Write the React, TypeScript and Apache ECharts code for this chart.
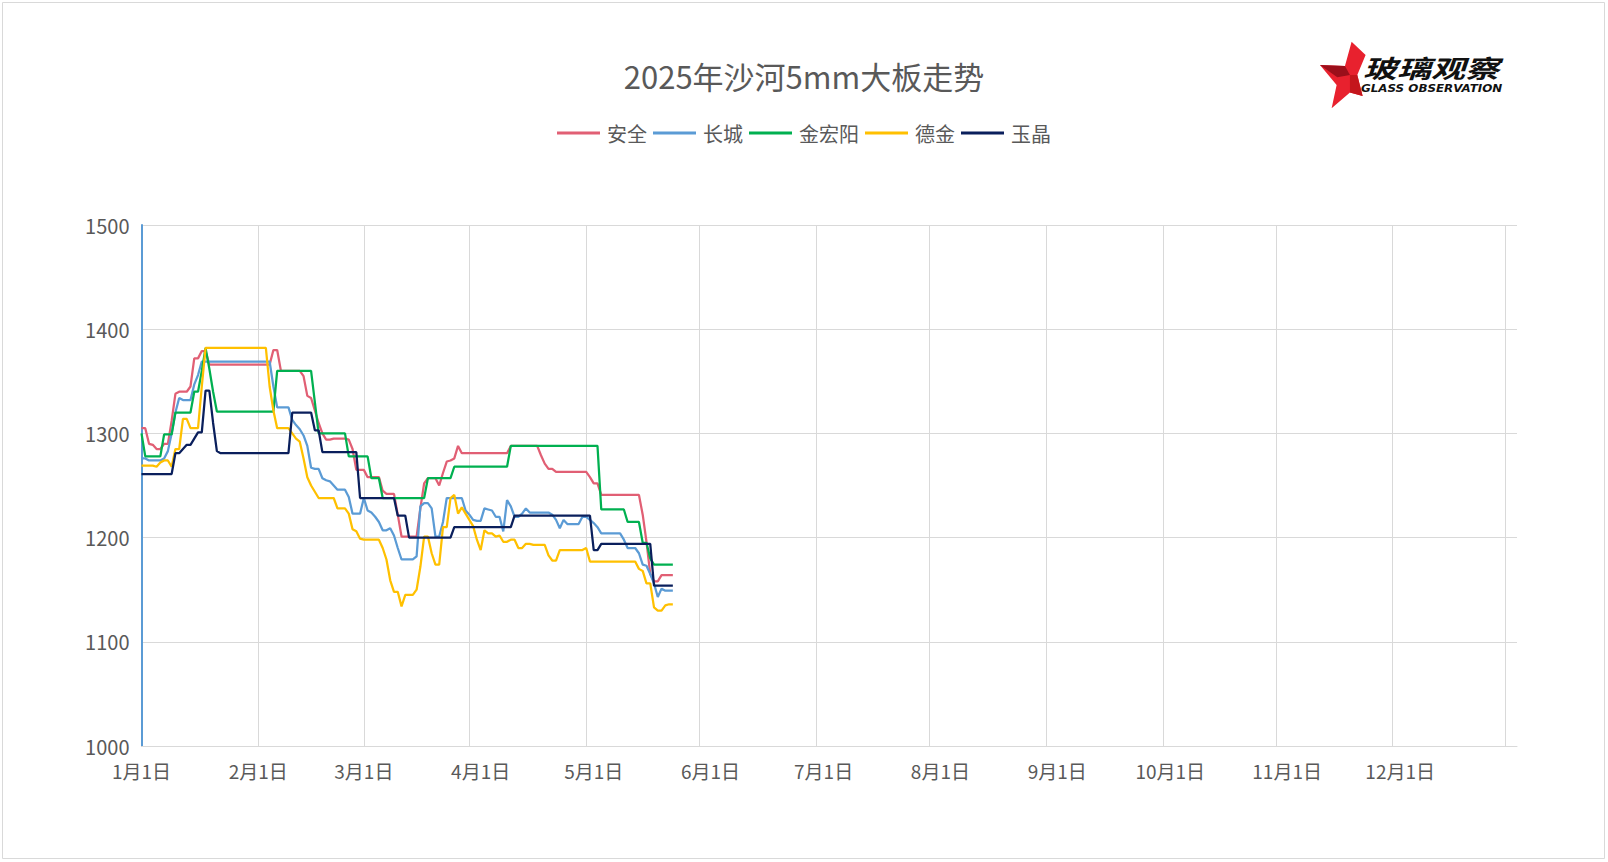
import React, { useEffect, useRef } from "react";
import * as echarts from "echarts";

const TITLE = "2025年沙河5mm大板走势";
const SERIES_NAMES = ["安全", "长城", "金宏阳", "德金", "玉晶"];
const SERIES_COLORS = ["#E15F74", "#5B9BD5", "#00B050", "#FFC000", "#0A1F5C"];

// daily categories: 2025-01-01 .. 2026-01-01
const START_MS = Date.UTC(2025, 0, 1);
const DAYS: string[] = [];
for (let i = 0; i <= 365; i++) {
  DAYS.push(new Date(START_MS + i * 86400000).toISOString().slice(0, 10));
}
// positions (day index) of the vertical grid lines as drawn in the source chart
const SPLIT_LINE_DAYS = [0, 31, 59, 87, 118, 148, 179, 209, 240, 271, 301, 332, 362];

// daily prices from 2025-01-01 (index 0) to 2025-05-22 (index 141)
const ANQUAN = [
  1305, 1305, 1290, 1289, 1285, 1285, 1290, 1290, 1312, 1338,
  1340, 1340, 1340, 1345, 1372, 1372, 1379, 1379, 1366, 1366,
  1366, 1366, 1366, 1366, 1366, 1366, 1366, 1366, 1366, 1366,
  1366, 1366, 1366, 1366, 1366, 1380, 1380, 1360, 1360, 1360,
  1360, 1360, 1360, 1355, 1336, 1334, 1322, 1310, 1300, 1294,
  1294, 1295, 1295, 1295, 1295, 1294, 1285, 1265, 1265, 1265,
  1258, 1258, 1258, 1258, 1245, 1242, 1242, 1242, 1222, 1201,
  1201, 1201, 1201, 1201, 1228, 1252, 1257, 1257, 1257, 1250,
  1262, 1273, 1274, 1276, 1288, 1281, 1281, 1281, 1281, 1281,
  1281, 1281, 1281, 1281, 1281, 1281, 1281, 1281, 1288, 1288,
  1288, 1288, 1288, 1288, 1288, 1288, 1279, 1271, 1266, 1266,
  1263, 1263, 1263, 1263, 1263, 1263, 1263, 1263, 1263, 1258,
  1252, 1252, 1241, 1241, 1241, 1241, 1241, 1241, 1241, 1241,
  1241, 1241, 1241, 1222, 1196, 1165, 1158, 1158, 1164, 1164,
  1164, 1164,
];
const CHANGCHENG = [
  1276, 1276, 1274, 1274, 1274, 1274, 1276, 1283, 1300, 1320,
  1334, 1332, 1332, 1332, 1347, 1356, 1369, 1369, 1369, 1369,
  1369, 1369, 1369, 1369, 1369, 1369, 1369, 1369, 1369, 1369,
  1369, 1369, 1369, 1369, 1369, 1345, 1325, 1325, 1325, 1325,
  1313, 1308, 1304, 1298, 1288, 1267, 1266, 1266, 1257, 1255,
  1254, 1250, 1246, 1246, 1246, 1239, 1223, 1223, 1223, 1238,
  1226, 1224, 1220, 1215, 1207, 1207, 1209, 1202, 1190, 1179,
  1179, 1179, 1179, 1182, 1230, 1233, 1233, 1228, 1201, 1201,
  1215, 1238, 1238, 1238, 1238, 1238, 1226, 1222, 1217, 1216,
  1216, 1228, 1227, 1226, 1220, 1220, 1206, 1236, 1230, 1220,
  1220, 1223, 1228, 1224, 1224, 1224, 1224, 1224, 1224, 1222,
  1217, 1209, 1217, 1213, 1213, 1213, 1213, 1220, 1220, 1217,
  1214, 1210, 1204, 1204, 1204, 1204, 1204, 1204, 1198, 1190,
  1190, 1190, 1185, 1174, 1173, 1165, 1156, 1143, 1151, 1149,
  1149, 1149,
];
const JINHONGYANG = [
  1300, 1278, 1278, 1278, 1278, 1278, 1299, 1299, 1299, 1320,
  1320, 1320, 1320, 1320, 1340, 1340, 1360, 1382, 1362, 1340,
  1321, 1321, 1321, 1321, 1321, 1321, 1321, 1321, 1321, 1321,
  1321, 1321, 1321, 1321, 1321, 1321, 1360, 1360, 1360, 1360,
  1360, 1360, 1360, 1360, 1360, 1360, 1330, 1300, 1300, 1300,
  1300, 1300, 1300, 1300, 1300, 1278, 1278, 1278, 1278, 1278,
  1278, 1257, 1257, 1257, 1238, 1238, 1238, 1238, 1238, 1238,
  1238, 1238, 1238, 1238, 1238, 1238, 1257, 1257, 1257, 1257,
  1257, 1257, 1257, 1268, 1268, 1268, 1268, 1268, 1268, 1268,
  1268, 1268, 1268, 1268, 1268, 1268, 1268, 1268, 1288, 1288,
  1288, 1288, 1288, 1288, 1288, 1288, 1288, 1288, 1288, 1288,
  1288, 1288, 1288, 1288, 1288, 1288, 1288, 1288, 1288, 1288,
  1288, 1288, 1227, 1227, 1227, 1227, 1227, 1227, 1227, 1215,
  1215, 1215, 1215, 1195, 1195, 1180, 1174, 1174, 1174, 1174,
  1174, 1174,
];
const DEJIN = [
  1269, 1269, 1269, 1269, 1268, 1272, 1274, 1274, 1268, 1285,
  1285, 1314, 1314, 1305, 1305, 1305, 1345, 1382, 1382, 1382,
  1382, 1382, 1382, 1382, 1382, 1382, 1382, 1382, 1382, 1382,
  1382, 1382, 1382, 1382, 1345, 1322, 1305, 1305, 1305, 1305,
  1300, 1295, 1292, 1276, 1258, 1250, 1244, 1238, 1238, 1238,
  1238, 1238, 1228, 1228, 1228, 1223, 1208, 1206, 1199, 1198,
  1198, 1198, 1198, 1198, 1190, 1179, 1159, 1148, 1148, 1134,
  1145, 1145, 1145, 1150, 1172, 1201, 1201, 1185, 1174, 1174,
  1210, 1210, 1238, 1241, 1223, 1229, 1223, 1217, 1211, 1198,
  1188, 1207, 1204, 1204, 1201, 1202, 1196, 1196, 1198, 1198,
  1190, 1190, 1194, 1194, 1193, 1193, 1193, 1193, 1183, 1178,
  1178, 1188, 1188, 1188, 1188, 1188, 1188, 1188, 1190, 1177,
  1177, 1177, 1177, 1177, 1177, 1177, 1177, 1177, 1177, 1177,
  1177, 1177, 1170, 1168, 1156, 1156, 1133, 1130, 1130, 1135,
  1136, 1136,
];
const YUJING = [
  1261, 1261, 1261, 1261, 1261, 1261, 1261, 1261, 1261, 1281,
  1281, 1285, 1289, 1289, 1295, 1301, 1301, 1341, 1341, 1310,
  1283, 1281, 1281, 1281, 1281, 1281, 1281, 1281, 1281, 1281,
  1281, 1281, 1281, 1281, 1281, 1281, 1281, 1281, 1281, 1281,
  1320, 1320, 1320, 1320, 1320, 1320, 1303, 1303, 1282, 1282,
  1282, 1282, 1282, 1282, 1282, 1282, 1282, 1282, 1238, 1238,
  1238, 1238, 1238, 1238, 1238, 1238, 1238, 1238, 1221, 1221,
  1221, 1200, 1200, 1200, 1200, 1200, 1200, 1200, 1200, 1200,
  1200, 1200, 1200, 1210, 1210, 1210, 1210, 1210, 1210, 1210,
  1210, 1210, 1210, 1210, 1210, 1210, 1210, 1210, 1210, 1221,
  1221, 1221, 1221, 1221, 1221, 1221, 1221, 1221, 1221, 1221,
  1221, 1221, 1221, 1221, 1221, 1221, 1221, 1221, 1221, 1221,
  1188, 1188, 1194, 1194, 1194, 1194, 1194, 1194, 1194, 1194,
  1194, 1194, 1194, 1194, 1194, 1194, 1154, 1154, 1154, 1154,
  1154, 1154,
];
const SERIES_DATA = [ANQUAN, CHANGCHENG, JINHONGYANG, DEJIN, YUJING];

const FONT = '"Noto Sans CJK SC", "Noto Sans", sans-serif';
const GRAY = "#595959";

export default function App() {
  const ref = useRef<HTMLDivElement>(null);
  useEffect(() => {
    if (!ref.current) return;
    const chart = echarts.init(ref.current, undefined, { renderer: "svg" });
    const option: any = {
      animation: false,
      backgroundColor: "#ffffff",
      textStyle: { fontFamily: FONT },
      title: {
        text: TITLE,
        left: "center",
        top: 60,
        padding: 0,
        textStyle: { fontSize: 31, fontWeight: "normal", color: GRAY, fontFamily: FONT },
      },
      legend: {
        data: SERIES_NAMES,
        top: 123,
        left: "center",
        padding: 0,
        icon: "rect",
        itemWidth: 43,
        itemHeight: 3,
        itemGap: 6,
        textStyle: { fontSize: 20, color: GRAY, fontFamily: FONT, padding: [0, 0, 0, 2] },
      },
      grid: { left: 141.5, top: 225, width: 1375.5, height: 521, containLabel: false },
      xAxis: {
        type: "category",
        data: DAYS,
        boundaryGap: false,
        axisLine: { show: true, lineStyle: { color: "#d9d9d9", width: 1 } },
        axisTick: { show: false },
        axisLabel: {
          interval: (i: number, v: string) => v.startsWith("2025") && v.endsWith("-01"),
          formatter: (v: string) => `${+v.slice(5, 7)}月${+v.slice(8, 10)}日`,
          fontSize: 19,
          color: GRAY,
          margin: 15,
          fontFamily: FONT,
        },
        splitLine: {
          show: true,
          interval: (i: number) => SPLIT_LINE_DAYS.includes(i),
          lineStyle: { color: "#d9d9d9", width: 1 },
        },
      },
      yAxis: {
        type: "value",
        min: 1000,
        max: 1500,
        interval: 100,
        axisLine: { show: true, lineStyle: { color: "#5B9BD5", width: 2 } },
        axisTick: { show: false },
        axisLabel: {
          fontSize: 20,
          color: GRAY,
          margin: 12,
          fontFamily: FONT,
          formatter: (v: number) => String(v),
        },
        splitLine: { show: true, lineStyle: { color: "#d9d9d9", width: 1 } },
      },
      series: SERIES_NAMES.map((name, k) => ({
        name,
        type: "line",
        data: SERIES_DATA[k],
        showSymbol: false,
        symbol: "none",
        color: SERIES_COLORS[k],
        lineStyle: { width: 2.25, color: SERIES_COLORS[k] },
      })),
      graphic: [
        {
          type: "rect",
          shape: { x: 2.5, y: 2.5, width: 1602, height: 856 },
          style: { fill: "none", stroke: "#d9d9d9", lineWidth: 1 },
          silent: true,
        },
        {
          type: "group",
          x: 1300,
          y: 30,
          scaleX: 1 / 3,
          scaleY: 1 / 3,
          children: [
            {
              type: "polygon",
              shape: {
                points: [
                  [155, 35], [197, 75], [172, 135], [188, 198], [150, 188],
                  [95, 235], [110, 165], [60, 105], [135, 108],
                ],
              },
              style: { fill: "#E8212E" },
            },
            {
              type: "polygon",
              shape: { points: [[60, 105], [135, 108], [150, 135], [112, 142]] },
              style: { fill: "#9B0F1A" },
            },
            {
              type: "polygon",
              shape: { points: [[150, 135], [172, 135], [188, 198], [150, 188]] },
              style: { fill: "#C4161C" },
            },
          ],
        },
        {
          type: "text",
          x: 1363,
          y: 55,
          scaleX: 1.36,
          style: {
            text: "玻璃观察",
            fontSize: 25,
            fontWeight: "bold",
            fontStyle: "italic",
            fill: "#111111",
            fontFamily: FONT,
            verticalAlign: "top",
          },
        },
        {
          type: "text",
          x: 1361,
          y: 83,
          scaleX: 1.08,
          style: {
            text: "GLASS OBSERVATION",
            fontSize: 11,
            fontWeight: "bold",
            fontStyle: "italic",
            fill: "#111111",
            fontFamily: '"DejaVu Sans", sans-serif',
            verticalAlign: "top",
          },
        },
      ],
    };
    chart.setOption(option);
    return () => chart.dispose();
  }, []);
  return (
    <div
      ref={ref}
      style={{ position: "absolute", left: 0, top: 0, width: 1608, height: 862, background: "#fff" }}
    />
  );
}
